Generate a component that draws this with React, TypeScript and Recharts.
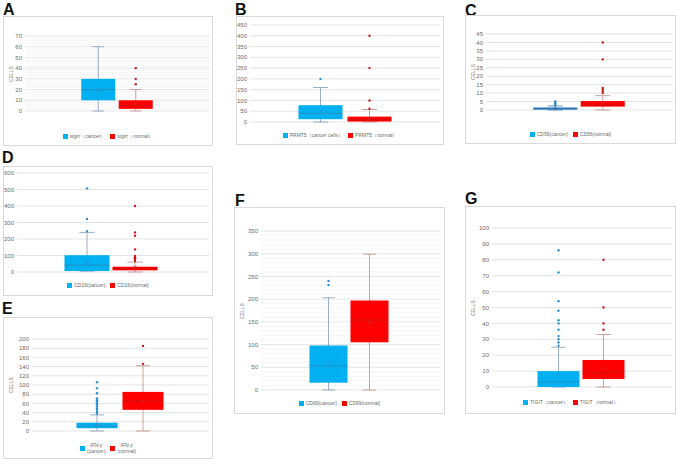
import React from 'react';
import { ComposedChart, Bar, XAxis, YAxis, CartesianGrid } from 'recharts';

// stats are [min, q1, median, q3, max, mean]
const groups = ['cancer', 'normal'];

const aLegend = ['sigirr（cancer）', 'sigirr（normal）'];
const aTicks = [0, 10, 20, 30, 40, 50, 60, 70];
const aMinor = [2, 4, 6, 8, 12, 14, 16, 18, 22, 24, 26, 28, 32, 34, 36, 38, 42, 44, 46, 48, 52, 54, 56, 58, 62, 64, 66, 68];
const aCancer = [0, 10, 20, 30, 60, 19];
const aNormal = [0, 2, 5, 10, 20, 7];
const aCancerOut: number[] = [];
const aNormalOut = [25, 30, 40];

const bLegend = ['PRMT5（cancer cells）', 'PRMT5（normal）'];
const bTicks = [0, 50, 100, 150, 200, 250, 300, 350, 400, 450];
const bCancer = [0, 13, 40, 78, 160, 48];
const bNormal = [0, 2, 10, 25, 58, 14];
const bCancerOut = [200];
const bNormalOut = [62, 100, 250, 400];

const cLegend = ['CD56(cancer)', 'CD56(normal)'];
const cTicks = [0, 5, 10, 15, 20, 25, 30, 35, 40, 45];
const cCancer = [0, 0.2, 0.8, 1.5, 2.4, 1];
const cNormal = [0, 2, 3, 5.3, 8.5, 4];
const cCancerOut = [3, 4, 5];
const cNormalOut = [10, 11, 12, 13, 30, 40];

const dLegend = ['CD16(cancer)', 'CD16(normal)'];
const dTicks = [0, 100, 200, 300, 400, 500, 600];
const dCancer = [5, 6, 42, 102, 240, 62];
const dNormal = [0, 10, 20, 32, 60, 30];
const dCancerOut = [248, 321, 507];
const dNormalOut = [67, 75, 83, 90, 97, 137, 220, 240, 400];

const eLegend = ['IFN-γ (cancer)', 'IFN-γ (normal)'];
const eTicks = [0, 20, 40, 60, 80, 100, 120, 140, 160, 180, 200];
const eCancer = [0, 6, 11, 18, 35, 13];
const eNormal = [0, 46, 65, 85, 142, 66];
const eCancerOut = [38, 42, 46, 49, 53, 57, 60, 64, 67, 71, 82, 93, 106];
const eNormalOut = [146, 185];

const fLegend = ['CD69(cancer)', 'CD69(normal)'];
const fTicks = [0, 50, 100, 150, 200, 250, 300, 350];
const fMinor = [10, 20, 30, 40, 60, 70, 80, 90, 110, 120, 130, 140, 160, 170, 180, 190, 210, 220, 230, 240, 260, 270, 280, 290, 310, 320, 330, 340];
const fCancer = [0, 16, 53, 98, 203, 62];
const fNormal = [0, 105, 154, 197, 299, 148];
const fCancerOut = [231, 240];
const fNormalOut: number[] = [];

const gLegend = ['TIGIT（cancer）', 'TIGIT（normal）'];
const gTicks = [0, 10, 20, 30, 40, 50, 60, 70, 80, 90, 100];
const gCancer = [0, 0, 3, 10, 25, 8];
const gNormal = [0, 5, 9, 17, 33, 12];
const gCancerOut = [26, 28, 30, 32, 36, 40, 42, 48, 54, 72, 86];
const gNormalOut = [36, 40, 50, 80];

const makeRows = (cancer: number[], normal: number[], cOut: number[], nOut: number[]) =>
  [cancer, normal].map((s, i) => ({
    name: groups[i],
    whisker: [s[0], s[4]],
    q1: s[1],
    median: s[2],
    q3: s[3],
    mean: s[5],
    outliers: i === 0 ? cOut : nOut,
  }));

const blue = { fill: '#00B0F0', whisker: '#7d9bb8', median: '#3f7aa6', mean: '#4f7fa8', dot: '#2a8fd0' };
const red = { fill: '#FF0000', whisker: '#c08a84', median: '#b01a1a', mean: '#b84040', dot: '#c81818' };
const steel = { fill: '#2e7fc0', whisker: '#3f7fb8', median: '#2a6aa0', mean: '#2a6aa0', dot: '#2e7fc0' };

const panels = [
  { letter: 'A', lx: 3, ly: 2, frame: [3, 16, 213, 146], plot: [25, 36, 210, 111], centers: [98, 135.5], boxW: 34, legendY: 133, cells: true,
    ticks: aTicks, minor: aMinor, legend: aLegend, rows: makeRows(aCancer, aNormal, aCancerOut, aNormalOut), look: [blue, red] },
  { letter: 'B', lx: 235, ly: 2, frame: [236, 16, 444, 145], plot: [250, 25, 440, 122], centers: [320, 369], boxW: 44, legendY: 132, cells: false,
    ticks: bTicks, minor: [], legend: bLegend, rows: makeRows(bCancer, bNormal, bCancerOut, bNormalOut), look: [blue, red] },
  { letter: 'C', lx: 465, ly: 3, frame: [465, 15, 676, 144], plot: [486, 34, 673, 110], centers: [555, 602.5], boxW: 44, legendY: 131, cells: true,
    ticks: cTicks, minor: [], legend: cLegend, rows: makeRows(cCancer, cNormal, cCancerOut, cNormalOut), look: [steel, red] },
  { letter: 'D', lx: 2, ly: 150, frame: [3, 166, 213, 296], plot: [17, 173, 209, 272], centers: [86.5, 134.5], boxW: 45, legendY: 282, cells: false,
    ticks: dTicks, minor: [], legend: dLegend, rows: makeRows(dCancer, dNormal, dCancerOut, dNormalOut), look: [blue, red] },
  { letter: 'E', lx: 2, ly: 301, frame: [3, 317, 213, 459], plot: [32, 339, 209, 431], centers: [96.5, 142.5], boxW: 41, legendY: 442, cells: true, wrap: true,
    ticks: eTicks, minor: [], legend: eLegend, rows: makeRows(eCancer, eNormal, eCancerOut, eNormalOut), look: [blue, red] },
  { letter: 'F', lx: 235, ly: 193, frame: [234, 207, 445, 414], plot: [261, 231, 440, 390], centers: [328, 369], boxW: 38, legendY: 400, cells: true,
    ticks: fTicks, minor: fMinor, legend: fLegend, rows: makeRows(fCancer, fNormal, fCancerOut, fNormalOut), look: [blue, red] },
  { letter: 'G', lx: 465, ly: 191, frame: [465, 206, 676, 414], plot: [492, 228, 672, 387], centers: [558, 603], boxW: 42, legendY: 399, cells: true,
    ticks: gTicks, minor: [], legend: gLegend, rows: makeRows(gCancer, gNormal, gCancerOut, gNormalOut), look: [blue, red] },
];

const BoxShape = (props: any) => {
  const { x, y, width, height, payload, looks } = props;
  const [min, max] = payload.whisker;
  const top = Math.min(y, y + height);
  const h = Math.abs(height);
  const py = (v: number) => top + ((max - v) * h) / (max - min);
  const c = looks[groups.indexOf(payload.name)];
  const cx = x + width / 2;
  const cap = width * 0.17;
  const m = 1.6;
  return (
    <g>
      <line x1={cx} x2={cx} y1={py(max)} y2={py(min)} stroke={c.whisker} strokeWidth={0.8} />
      <line x1={cx - cap} x2={cx + cap} y1={py(max)} y2={py(max)} stroke={c.whisker} strokeWidth={0.8} />
      <line x1={cx - cap} x2={cx + cap} y1={py(min)} y2={py(min)} stroke={c.whisker} strokeWidth={0.8} />
      <rect x={x} y={py(payload.q3)} width={width} height={py(payload.q1) - py(payload.q3)} fill={c.fill} />
      <line x1={x} x2={x + width} y1={py(payload.median)} y2={py(payload.median)} stroke={c.median} strokeWidth={0.6} />
      <path
        d={`M${cx - m},${py(payload.mean) - m}L${cx + m},${py(payload.mean) + m}M${cx + m},${py(payload.mean) - m}L${cx - m},${py(payload.mean) + m}`}
        stroke={c.mean}
        strokeWidth={0.6}
      />
      {payload.outliers.map((o: number, i: number) => (
        <circle key={i} cx={cx} cy={py(o)} r={1.2} fill={c.dot} />
      ))}
    </g>
  );
};

const Panel = ({ p }: { p: (typeof panels)[number] }) => {
  const [fl, ft, fr, fb] = p.frame;
  const [pl, pt, pr, pb] = p.plot;
  const w = fr - fl;
  const h = fb - ft;
  const band = p.centers[1] - p.centers[0];
  const padL = p.centers[0] - band / 2 - pl;
  const padR = pr - (p.centers[1] + band / 2);
  const max = p.ticks[p.ticks.length - 1];
  return (
    <>
      <div style={{ position: 'absolute', left: p.lx, top: p.ly, fontFamily: 'Liberation Sans, Arial, sans-serif', fontWeight: 700, fontSize: 16, lineHeight: '16px', color: '#111' }}>
        {p.letter}
      </div>
      <div style={{ position: 'absolute', left: fl, top: ft, width: w, height: h, background: '#fff', outline: '1px solid #d9d9d9', outlineOffset: -1 }}>
        <ComposedChart
          width={w}
          height={h}
          data={p.rows}
          margin={{ top: pt - ft, right: fr - pr, bottom: fb - pb, left: 0 }}
        >
          {p.minor.length > 0 && (
            <CartesianGrid vertical={false} horizontalValues={p.minor} stroke="#efefef" strokeWidth={0.6} />
          )}
          <CartesianGrid vertical={false} stroke="#d9d9d9" strokeWidth={0.7} />
          <XAxis dataKey="name" type="category" hide padding={{ left: padL, right: padR }} />
          <YAxis
            type="number"
            domain={[0, max]}
            ticks={p.ticks}
            interval={0}
            width={pl - fl}
            axisLine={false}
            tickLine={false}
            tickSize={0}
            tickMargin={3}
            tick={{ fontSize: 6, fill: '#6b6b6b', fontFamily: 'Liberation Sans, Arial, sans-serif' }}
          />
          <Bar
            dataKey="whisker"
            barSize={p.boxW}
            isAnimationActive={false}
            shape={(sp: any) => <BoxShape {...sp} looks={p.look} />}
          />
        </ComposedChart>
        {p.cells && (
          <div
            style={{
              position: 'absolute',
              left: 5,
              top: (pt + pb) / 2 - ft,
              transform: 'translate(-50%, -50%) rotate(-90deg)',
              fontSize: 5,
              color: '#6b6b6b',
              fontFamily: 'Liberation Sans, Arial, sans-serif',
              marginLeft: 3,
            }}
          >
            CELLS
          </div>
        )}
        <div
          style={{
            position: 'absolute',
            left: 0,
            width: w,
            top: p.legendY - ft,
            display: 'flex',
            justifyContent: 'center',
            gap: 5,
            fontSize: 5,
            color: '#6b6b6b',
            fontFamily: 'Liberation Sans, Arial, sans-serif',
          }}
        >
          {p.legend.map((t, i) => (
            <div key={t} style={{ display: 'flex', alignItems: 'center', gap: 2 }}>
              <span style={{ display: 'inline-block', width: 5, height: 5, background: i === 0 ? '#00B0F0' : '#FF0000' }} />
              {p.wrap ? (
                <span style={{ textAlign: 'center', lineHeight: '6px' }}>
                  {t.split(' ')[0]}
                  <br />
                  {t.split(' ')[1]}
                </span>
              ) : (
                <span style={{ whiteSpace: 'nowrap' }}>{t}</span>
              )}
            </div>
          ))}
        </div>
      </div>
    </>
  );
};

export default function App() {
  return (
    <div style={{ position: 'absolute', left: 0, top: 0, width: 677, height: 460, background: '#fff', overflow: 'hidden' }}>
      {panels.map((p) => (
        <Panel key={p.letter} p={p} />
      ))}
    </div>
  );
}
